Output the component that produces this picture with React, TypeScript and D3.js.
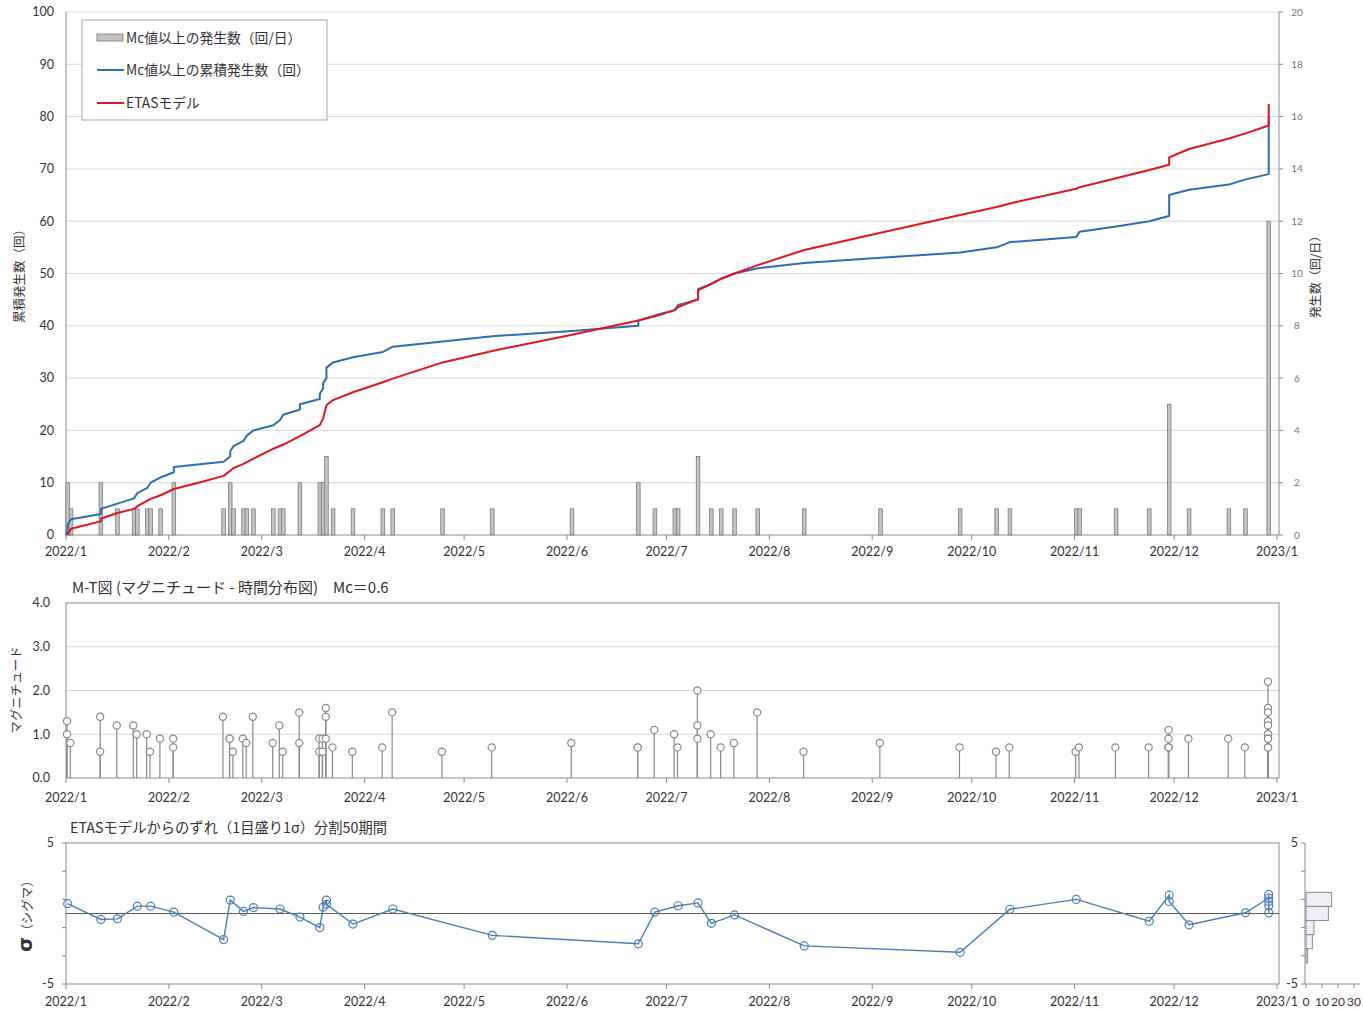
import React from "react";
import * as d3 from "d3";

// ---------------- DATA ----------------
const MONTH_TICKS = [
  "2022-01-01", "2022-02-01", "2022-03-01", "2022-04-01", "2022-05-01", "2022-06-01",
  "2022-07-01", "2022-08-01", "2022-09-01", "2022-10-01", "2022-11-01", "2022-12-01", "2023-01-01",
];
const CUM_TICKS = [0, 10, 20, 30, 40, 50, 60, 70, 80, 90, 100];
const RATE_TICKS = [0, 2, 4, 6, 8, 10, 12, 14, 16, 18, 20];
const MAG_TICKS = [0, 1, 2, 3, 4];
const SIGMA_LABELS = [-5, 5];
const SIGMA_MARKS = [-5, -3, -1, 1, 3, 5];
const HIST_TICKS = [0, 10, 20, 30];

// daily counts (events >= Mc per day)
const BAR_DATES = [
  "2022-01-01", "2022-01-02", "2022-01-11", "2022-01-16", "2022-01-21", "2022-01-22", "2022-01-25",
  "2022-01-26", "2022-01-29", "2022-02-02", "2022-02-17", "2022-02-19", "2022-02-20", "2022-02-23",
  "2022-02-24", "2022-02-26", "2022-03-04", "2022-03-06", "2022-03-07", "2022-03-12", "2022-03-18",
  "2022-03-19", "2022-03-20", "2022-03-22", "2022-03-28", "2022-04-06", "2022-04-09", "2022-04-24",
  "2022-05-09", "2022-06-02", "2022-06-22", "2022-06-27", "2022-07-03", "2022-07-04", "2022-07-10",
  "2022-07-14", "2022-07-17", "2022-07-21", "2022-07-28", "2022-08-11", "2022-09-03", "2022-09-27",
  "2022-10-08", "2022-10-12", "2022-11-01", "2022-11-02", "2022-11-13", "2022-11-23", "2022-11-29",
  "2022-12-05", "2022-12-17", "2022-12-22", "2022-12-29",
];
const BAR_COUNTS = [
  2, 1, 2, 1, 1, 1, 1,
  1, 1, 2, 1, 2, 1, 1,
  1, 1, 1, 1, 1, 2, 2,
  2, 3, 1, 1, 1, 1, 1,
  1, 1, 2, 1, 1, 1, 3,
  1, 1, 1, 1, 1, 1, 1,
  1, 1, 1, 1, 1, 1, 5,
  1, 1, 1, 12,
];

// ETAS model expected cumulative count
const ETAS_DATES = [
  "2022-01-01", "2022-01-02", "2022-01-11", "2022-01-11", "2022-01-16", "2022-01-21", "2022-01-22",
  "2022-01-26", "2022-01-29", "2022-02-02", "2022-02-10", "2022-02-17", "2022-02-19", "2022-02-20",
  "2022-02-23", "2022-02-26", "2022-03-04", "2022-03-07", "2022-03-12", "2022-03-18", "2022-03-19",
  "2022-03-20", "2022-03-22", "2022-03-28", "2022-04-06", "2022-04-09", "2022-04-24", "2022-05-09",
  "2022-06-02", "2022-06-22", "2022-06-27", "2022-07-03", "2022-07-04", "2022-07-10", "2022-07-10",
  "2022-07-14", "2022-07-17", "2022-07-21", "2022-07-28", "2022-08-11", "2022-09-03", "2022-09-27",
  "2022-10-08", "2022-10-12", "2022-11-01", "2022-11-02", "2022-11-13", "2022-11-23", "2022-11-29",
  "2022-11-29", "2022-12-05", "2022-12-17", "2022-12-22", "2022-12-29", "2022-12-29",
];
const ETAS_VALUES = [
  0, 1.2, 2.6, 3.1, 4.2, 5.0, 5.5,
  6.9, 7.6, 8.8, 10.1, 11.3, 12.3, 12.8,
  13.6, 14.6, 16.5, 17.3, 18.9, 21.0, 22.3,
  24.8, 25.8, 27.3, 29.2, 29.9, 33.0, 35.2,
  38.3, 41.0, 41.8, 43.0, 43.6, 45.1, 46.8,
  48.0, 49.0, 50.0, 51.6, 54.5, 57.8, 61.2,
  62.7, 63.4, 66.2, 66.5, 68.2, 69.8, 70.8,
  72.2, 73.8, 75.8, 76.8, 78.3, 82.4,
];

// M-T diagram: event dates and magnitudes
const MT_DATES = [
  "2022-01-01", "2022-01-01", "2022-01-02", "2022-01-11", "2022-01-11", "2022-01-16", "2022-01-21",
  "2022-01-22", "2022-01-25", "2022-01-26", "2022-01-29", "2022-02-02", "2022-02-02", "2022-02-17",
  "2022-02-19", "2022-02-19", "2022-02-20", "2022-02-23", "2022-02-24", "2022-02-26", "2022-03-04",
  "2022-03-06", "2022-03-07", "2022-03-12", "2022-03-12", "2022-03-18", "2022-03-18", "2022-03-19",
  "2022-03-19", "2022-03-20", "2022-03-20", "2022-03-20", "2022-03-22", "2022-03-28", "2022-04-06",
  "2022-04-09", "2022-04-24", "2022-05-09", "2022-06-02", "2022-06-22", "2022-06-22", "2022-06-27",
  "2022-07-03", "2022-07-04", "2022-07-10", "2022-07-10", "2022-07-10", "2022-07-14", "2022-07-17",
  "2022-07-21", "2022-07-28", "2022-08-11", "2022-09-03", "2022-09-27", "2022-10-08", "2022-10-12",
  "2022-11-01", "2022-11-02", "2022-11-13", "2022-11-23", "2022-11-29", "2022-11-29", "2022-11-29",
  "2022-11-29", "2022-11-29", "2022-12-05", "2022-12-17", "2022-12-22", "2022-12-29", "2022-12-29",
  "2022-12-29", "2022-12-29", "2022-12-29", "2022-12-29", "2022-12-29", "2022-12-29", "2022-12-29",
  "2022-12-29", "2022-12-29", "2022-12-29",
];
const MT_MAGS = [
  1.3, 1.0, 0.8, 1.4, 0.6, 1.2, 1.2,
  1.0, 1.0, 0.6, 0.9, 0.9, 0.7, 1.4,
  0.9, 0.9, 0.6, 0.9, 0.8, 1.4, 0.8,
  1.2, 0.6, 1.5, 0.8, 0.9, 0.6, 0.9,
  0.6, 1.6, 1.4, 0.9, 0.7, 0.6, 0.7,
  1.5, 0.6, 0.7, 0.8, 0.7, 0.7, 1.1,
  1.0, 0.7, 2.0, 1.2, 0.9, 1.0, 0.7,
  0.8, 1.5, 0.6, 0.8, 0.7, 0.6, 0.7,
  0.6, 0.7, 0.7, 0.7, 1.1, 0.9, 0.7,
  0.7, 0.7, 0.9, 0.9, 0.7, 2.2, 1.6,
  1.5, 1.3, 1.2, 1.0, 1.0, 0.9, 0.9,
  0.7, 0.7, 0.7,
];

// deviation from ETAS model (sigma)
const SIGMA_DATES = [
  "2022-01-01", "2022-01-11", "2022-01-16", "2022-01-22", "2022-01-26", "2022-02-02", "2022-02-17",
  "2022-02-19", "2022-02-23", "2022-02-26", "2022-03-06", "2022-03-12", "2022-03-18", "2022-03-19",
  "2022-03-20", "2022-03-20", "2022-03-28", "2022-04-09", "2022-05-09", "2022-06-22", "2022-06-27",
  "2022-07-04", "2022-07-10", "2022-07-14", "2022-07-21", "2022-08-11", "2022-09-27", "2022-10-12",
  "2022-11-01", "2022-11-23", "2022-11-29", "2022-11-29", "2022-12-05", "2022-12-22", "2022-12-29",
  "2022-12-29", "2022-12-29", "2022-12-29", "2022-12-29",
];
const SIGMA_VALUES = [
  0.7, -0.42, -0.38, 0.52, 0.52, 0.1, -1.85,
  0.95, 0.15, 0.42, 0.32, -0.25, -1.0, 0.45,
  0.95, 0.65, -0.75, 0.32, -1.55, -2.15, 0.1,
  0.55, 0.75, -0.7, -0.1, -2.3, -2.75, 0.3,
  1.0, -0.55, 1.3, 0.85, -0.8, 0.05, 1.1,
  1.35, 0.85, 0.55, 0.05,
];

// histogram of sigma (1σ bins)
const HIST_BIN_CENTERS = [1, 0, -1, -2, -3];
const HIST_COUNTS = [16, 14, 5, 4, 1];

// ---------------- LAYOUT ----------------
const W = 1363;
const H = 1009;
const PL = 66;
const PR = 1279;
const FONT_NUM = "Lato, 'Noto Sans CJK JP', sans-serif";
const FONT_JP = "'Noto Sans CJK JP', sans-serif";
const TXT = "#333";
const GRID = "#D9D9D9";
const AXIS = "#8C8C8C";
const BLUE = "#2E6DB4";
const RED = "#E3141E";

const parse = d3.timeParse("%Y-%m-%d");
const mid = (s: string) => d3.timeHour.offset(parse(s) as Date, 12);
const fmtMonth = (d: Date) => `${d.getFullYear()}/${d.getMonth() + 1}`;

const x = d3.scaleTime().domain([parse("2022-01-01") as Date, parse("2023-01-01") as Date]).range([PL, 1277]);

// top panel
const T_TOP = 12, T_BOT = 535;
const yCum = d3.scaleLinear().domain([0, 100]).range([T_BOT, T_TOP]);
const yRate = d3.scaleLinear().domain([0, 20]).range([T_BOT, T_TOP]);
// M-T panel
const M_TOP = 603, M_BOT = 778;
const yMag = d3.scaleLinear().domain([0, 4]).range([M_BOT, M_TOP]);
// sigma panel
const S_TOP = 843, S_BOT = 984;
const ySig = d3.scaleLinear().domain([-5, 5]).range([S_BOT, S_TOP]);
const xHist = d3.scaleLinear().domain([0, 30]).range([1306, 1354]);

function XAxis({ y, labelY }: { y: number; labelY: number }) {
  return (
    <g>
      {MONTH_TICKS.map((s) => {
        const d = parse(s) as Date;
        const px = x(d);
        return (
          <g key={s}>
            <line x1={px} x2={px} y1={y} y2={y + 5} stroke={AXIS} />
            <text x={px} y={labelY} textAnchor="middle" fontSize={12.5} fontFamily={FONT_NUM} fill={TXT}>
              {fmtMonth(d)}
            </text>
          </g>
        );
      })}
    </g>
  );
}

export default function App() {
  // cumulative observed curve derived from the daily counts
  const cumPts: [Date, number][] = [[parse("2022-01-01") as Date, 0]];
  let cum = 0;
  BAR_DATES.forEach((s, i) => {
    for (let k = 0; k < BAR_COUNTS[i]; k++) {
      cum += 1;
      cumPts.push([mid(s), cum]);
    }
  });
  const cumLine = d3.line<[Date, number]>().x((d) => x(d[0])).y((d) => yCum(d[1]));
  const etasPts: [Date, number][] = ETAS_DATES.map((s, i) => [mid(s), ETAS_VALUES[i]]);
  const sigPts: [Date, number][] = SIGMA_DATES.map((s, i) => [mid(s), SIGMA_VALUES[i]]);
  const sigLine = d3.line<[Date, number]>().x((d) => x(d[0])).y((d) => ySig(d[1]));

  const barW = 3.6;

  return (
    <svg width={W} height={H} style={{ position: "absolute", left: 0, top: 0, background: "#fff" }}>
      <rect x={0} y={0} width={W} height={H} fill="#fff" />

      {/* ============ TOP PANEL ============ */}
      {CUM_TICKS.map((t) => (
        <g key={"gc" + t}>
          {t > 0 && <line x1={PL} x2={PR} y1={yCum(t)} y2={yCum(t)} stroke={GRID} />}
          <text x={54} y={yCum(t)} dy="0.35em" textAnchor="end" fontSize={12.5} fontFamily={FONT_NUM} fill={TXT}>
            {t}
          </text>
        </g>
      ))}
      {RATE_TICKS.map((t) => (
        <g key={"gr" + t}>
          <line x1={PR} x2={PR + 4} y1={yRate(t)} y2={yRate(t)} stroke={AXIS} />
          <text x={1297} y={yRate(t)} dy="0.35em" textAnchor="middle" fontSize={10} fontFamily={FONT_NUM} fill="#777">
            {t}
          </text>
        </g>
      ))}
      <line x1={PL} x2={PL} y1={T_TOP} y2={T_BOT} stroke={AXIS} />
      <line x1={PR} x2={PR} y1={T_TOP} y2={T_BOT} stroke={AXIS} />

      {/* daily count bars */}
      {BAR_DATES.map((s, i) => (
        <rect
          key={"b" + s}
          x={x(mid(s)) - barW / 2}
          y={yRate(BAR_COUNTS[i])}
          width={barW}
          height={yRate(0) - yRate(BAR_COUNTS[i])}
          fill="#C4C4C4"
          stroke="#7A7A7A"
          strokeWidth={0.8}
        />
      ))}
      <line x1={PL} x2={PR} y1={T_BOT} y2={T_BOT} stroke={AXIS} />
      <XAxis y={T_BOT} labelY={556} />

      <path d={cumLine(cumPts) || ""} fill="none" stroke={BLUE} strokeWidth={2} strokeLinejoin="round" />
      <path d={cumLine(etasPts) || ""} fill="none" stroke={RED} strokeWidth={2} strokeLinejoin="round" />

      <text transform="translate(24,273) rotate(-90)" textAnchor="middle" fontSize={12.5} fontFamily={FONT_JP} fill={TXT}>
        累積発生数（回）
      </text>
      <text transform="translate(1320,274) rotate(-90)" textAnchor="middle" fontSize={12} fontFamily={FONT_JP} fill={TXT}>
        発生数（回/日）
      </text>

      {/* legend */}
      <g>
        <rect x={82} y={20} width={245} height={100} fill="#fff" stroke="#A6A6A6" />
        <rect x={97} y={34} width={26} height={7} fill="#C4C4C4" stroke="#7A7A7A" strokeWidth={0.8} />
        <text x={126} y={38} dy="0.35em" fontSize={13.8} fontFamily={FONT_JP} fill={TXT}>
          Mc値以上の発生数（回/日）
        </text>
        <line x1={97} x2={124} y1={70} y2={70} stroke={BLUE} strokeWidth={2} />
        <text x={126} y={70} dy="0.35em" fontSize={13.8} fontFamily={FONT_JP} fill={TXT}>
          Mc値以上の累積発生数（回）
        </text>
        <line x1={97} x2={124} y1={103} y2={103} stroke={RED} strokeWidth={2} />
        <text x={126} y={103} dy="0.35em" fontSize={13.8} fontFamily={FONT_JP} fill={TXT}>
          ETASモデル
        </text>
      </g>

      {/* ============ M-T PANEL ============ */}
      <text x={72} y={593} fontSize={15} fontFamily={FONT_JP} fill={TXT}>
        M-T図 (マグニチュード - 時間分布図)
      </text>
      <text x={333} y={593} fontSize={15} fontFamily={FONT_JP} fill={TXT}>
        Mc＝0.6
      </text>
      {MAG_TICKS.map((t) => (
        <g key={"gm" + t}>
          {t > 0 && t < 4 && <line x1={PL} x2={PR} y1={yMag(t)} y2={yMag(t)} stroke={GRID} />}
          <text x={50} y={yMag(t)} dy="0.35em" textAnchor="end" fontSize={12.5} fontFamily={FONT_NUM} fill={TXT}>
            {t.toFixed(1)}
          </text>
        </g>
      ))}
      <rect x={PL} y={M_TOP} width={PR - PL} height={M_BOT - M_TOP} fill="none" stroke={AXIS} />
      <XAxis y={M_BOT} labelY={802} />
      {MT_DATES.map((s, i) => (
        <line
          key={"st" + i}
          x1={x(parse(s) as Date) + 1}
          x2={x(parse(s) as Date) + 1}
          y1={yMag(0)}
          y2={yMag(MT_MAGS[i])}
          stroke="#8A8A8A"
          strokeWidth={1.2}
        />
      ))}
      {MT_DATES.map((s, i) => (
        <circle
          key={"mc" + i}
          cx={x(parse(s) as Date) + 1}
          cy={yMag(MT_MAGS[i])}
          r={3.6}
          fill="#fff"
          stroke="#8A8A8A"
          strokeWidth={1.2}
        />
      ))}
      <text transform="translate(21,690) rotate(-90)" textAnchor="middle" fontSize={12.5} fontFamily={FONT_JP} fill={TXT}>
        マグニチュード
      </text>

      {/* ============ SIGMA PANEL ============ */}
      <text x={70} y={833} fontSize={14.3} fontFamily={FONT_JP} fill={TXT}>
        ETASモデルからのずれ（1目盛り1σ）分割50期間
      </text>
      <rect x={PL} y={S_TOP} width={PR - PL} height={S_BOT - S_TOP} fill="none" stroke={AXIS} />
      {SIGMA_MARKS.map((t) => (
        <g key={"sm" + t}>
          <line x1={PL - 4} x2={PL} y1={ySig(t)} y2={ySig(t)} stroke={AXIS} />
          <line x1={1301} x2={1305} y1={ySig(t)} y2={ySig(t)} stroke={AXIS} />
        </g>
      ))}
      {SIGMA_LABELS.map((t) => (
        <g key={"sl" + t}>
          <text x={54} y={ySig(t)} dy="0.35em" textAnchor="end" fontSize={12.5} fontFamily={FONT_NUM} fill={TXT}>
            {t}
          </text>
          <text x={1298} y={ySig(t)} dy="0.35em" textAnchor="end" fontSize={12.5} fontFamily={FONT_NUM} fill={TXT}>
            {t}
          </text>
        </g>
      ))}
      <line x1={PL} x2={PR} y1={ySig(0)} y2={ySig(0)} stroke="#595959" strokeWidth={1.2} />
      <XAxis y={S_BOT} labelY={1006} />
      <path d={sigLine(sigPts) || ""} fill="none" stroke="#4A7EBB" strokeWidth={1.4} />
      {sigPts.map((p, i) => (
        <circle key={"sc" + i} cx={x(p[0])} cy={ySig(p[1])} r={4} fill="none" stroke="#4A7EBB" strokeWidth={1.2} />
      ))}
      <text transform="translate(32,913) rotate(-90)" textAnchor="middle" fontFamily={FONT_JP} fill={TXT}>
        <tspan fontSize={19} fontWeight="bold" fontFamily="'DejaVu Sans', sans-serif">σ</tspan>
        <tspan fontSize={12.5}>（シグマ）</tspan>
      </text>

      {/* histogram of sigma */}
      <line x1={1305} x2={1305} y1={S_TOP} y2={S_BOT} stroke={AXIS} />
      <line x1={1305} x2={1360} y1={S_BOT} y2={S_BOT} stroke={AXIS} />
      {HIST_BIN_CENTERS.map((c, i) => (
        <rect
          key={"h" + c}
          x={xHist(0)}
          y={ySig(c + 0.5)}
          width={xHist(HIST_COUNTS[i]) - xHist(0)}
          height={ySig(c - 0.5) - ySig(c + 0.5)}
          fill="#EEEEF6"
          stroke="#8C8C8C"
          strokeWidth={1}
        />
      ))}
      {HIST_TICKS.map((t) => (
        <g key={"ht" + t}>
          <line x1={xHist(t)} x2={xHist(t)} y1={S_BOT} y2={S_BOT + 4} stroke={AXIS} />
          <text x={xHist(t)} y={1006} textAnchor="middle" fontSize={12} fontFamily={FONT_NUM} fill={TXT}>
            {t}
          </text>
        </g>
      ))}
    </svg>
  );
}
